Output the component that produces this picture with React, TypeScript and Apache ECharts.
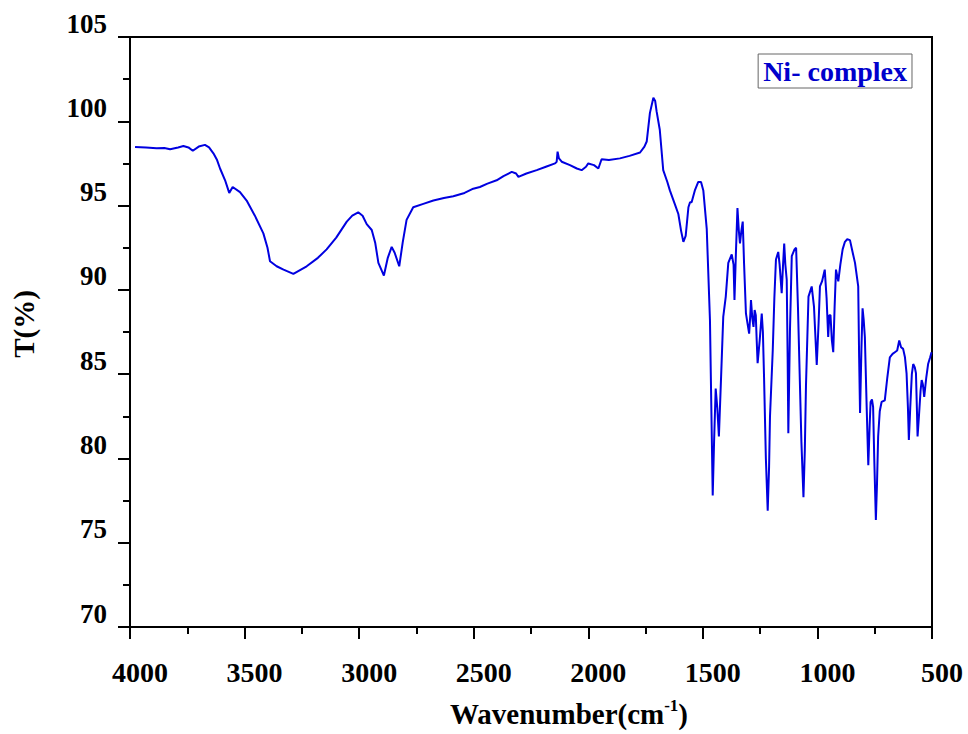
import React, { useEffect, useRef } from "react";
import * as echarts from "echarts";

// Wavenumber (cm^-1), descending
const wavenumbers: number[] = [
  3978, 3930, 3884, 3850, 3825, 3790, 3767, 3745, 3726, 3700, 3673, 3655, 3636, 3620, 3607,
  3585, 3567, 3552, 3520, 3491, 3455, 3418, 3400, 3389, 3360, 3330, 3287, 3229, 3180, 3142,
  3100, 3054, 3030, 3004, 2985, 2967, 2945, 2930, 2916, 2892, 2875, 2858, 2845, 2825, 2810,
  2793, 2764, 2720, 2676, 2630, 2589, 2540, 2502, 2473, 2440, 2400, 2370, 2334, 2315, 2305,
  2270, 2225, 2185, 2145, 2138, 2134, 2128, 2116, 2080, 2050, 2029, 2010, 2000, 1975, 1956,
  1942, 1910, 1862, 1820, 1774, 1755, 1745, 1731, 1716, 1708, 1702, 1688, 1673, 1655, 1644,
  1620, 1607, 1595, 1585, 1575, 1563, 1556, 1549, 1535, 1520, 1508, 1498, 1483, 1469, 1463,
  1457, 1451, 1444, 1437, 1430, 1420, 1411, 1400, 1389, 1374, 1366, 1362, 1355, 1349, 1343,
  1338, 1332, 1326, 1320, 1312, 1305, 1298, 1293, 1290, 1284, 1279, 1274, 1269, 1265, 1261,
  1252, 1243, 1238, 1233, 1225, 1217, 1211, 1207, 1195, 1188, 1181, 1171, 1165, 1156, 1150,
  1145, 1140, 1134, 1130, 1127, 1120, 1112, 1100, 1093, 1085, 1079, 1070, 1061, 1055, 1050,
  1039, 1025, 1015, 1003, 995, 989, 980, 968, 960, 953, 948, 943, 937, 931, 925,
  919, 909, 900, 890, 880, 870, 858, 846, 836, 822, 818, 814, 808, 803, 798,
  793, 785, 778, 772, 768, 762, 757, 752, 745, 740, 735, 728, 720, 706, 695,
  684, 672, 662, 652, 643, 635, 626, 618, 611, 605, 601, 595, 588, 582, 575,
  570, 566, 563, 557, 550, 545, 540, 534, 525, 517, 508, 502,
];

// Transmittance T(%)
const transmittance: number[] = [
  98.47, 98.45, 98.4, 98.42, 98.34, 98.45, 98.53, 98.45, 98.25, 98.5, 98.6, 98.45, 98.1, 97.7, 97.2,
  96.5, 95.75, 96.1, 95.8, 95.3, 94.4, 93.35, 92.5, 91.7, 91.4, 91.2, 90.95, 91.4, 91.9, 92.4,
  93.1, 94.05, 94.4, 94.6, 94.4, 93.9, 93.55, 92.8, 91.6, 90.85, 91.9, 92.55, 92.2, 91.4, 92.8,
  94.15, 94.9, 95.1, 95.3, 95.45, 95.55, 95.75, 96.0, 96.1, 96.3, 96.5, 96.75, 97.0, 96.9, 96.7,
  96.9, 97.1, 97.3, 97.5, 97.6, 98.2, 97.8, 97.6, 97.4, 97.2, 97.1, 97.3, 97.5, 97.4, 97.2,
  97.75, 97.7, 97.8, 97.95, 98.15, 98.5, 98.8, 100.5, 101.4, 101.2, 100.6, 99.5, 97.1, 96.4, 95.9,
  95.0, 94.5, 93.5, 92.85, 93.2, 94.9, 95.2, 95.2, 95.9, 96.4, 96.4, 95.9, 93.6, 88.2, 83.0,
  77.8, 81.0, 84.15, 83.0, 81.3, 85.0, 88.4, 89.6, 91.6, 92.1, 91.5, 89.4, 92.5, 94.85, 93.5,
  92.75, 93.5, 94.05, 91.5, 88.6, 88.0, 87.4, 88.5, 89.4, 88.3, 87.8, 88.8, 88.5, 87.0, 85.65,
  87.0, 88.6, 87.5, 84.85, 80.0, 76.9, 79.5, 82.5, 86.4, 89.5, 91.8, 92.25, 91.5, 89.8, 91.5,
  92.75, 91.5, 90.6, 86.0, 81.5, 87.5, 92.0, 92.4, 92.5, 89.0, 85.8, 81.0, 77.7, 80.5, 84.3,
  89.6, 90.2, 89.0, 85.55, 88.0, 90.2, 90.5, 91.2, 89.5, 87.2, 88.5, 88.5, 87.0, 86.3, 89.0,
  91.2, 90.5, 91.5, 92.4, 92.85, 93.0, 92.95, 92.2, 91.6, 90.2, 86.0, 82.7, 86.5, 88.9, 88.2,
  87.2, 83.0, 79.6, 82.0, 83.35, 83.5, 83.05, 80.0, 76.35, 78.5, 81.3, 82.8, 83.35, 83.45, 84.8,
  86.0, 86.2, 86.3, 86.4, 87.0, 86.6, 86.5, 86.0, 85.05, 83.0, 81.1, 83.0, 85.0, 85.6, 85.4,
  85.05, 83.0, 81.3, 82.5, 84.0, 84.65, 84.4, 83.65, 84.8, 85.6, 86.0, 86.3,
];

const seriesName = "Ni- complex";
const xTicks = { min: 500, max: 4000, interval: 500 };
const yTicks = { min: 70, max: 105, interval: 5 };

const FONT = "'Liberation Serif', 'Times New Roman', Times, serif";

export default function App() {
  const ref = useRef<HTMLDivElement>(null);

  useEffect(() => {
    if (!ref.current) return;
    const chart = echarts.init(ref.current, null, { renderer: "svg" });
    const data = wavenumbers.map((w, i) => [w, transmittance[i]]);

    chart.setOption({
      animation: false,
      backgroundColor: "#ffffff",
      grid: {
        left: 130,
        right: 36,
        top: 37,
        bottom: 107,
        show: true,
        borderColor: "#000",
        borderWidth: 2,
        backgroundColor: "transparent",
        containLabel: false,
        outerBoundsMode: "none",
      },
      legend: {
        data: [{ name: seriesName, icon: "none" }],
        right: 56,
        top: 54,
        itemWidth: 0,
        itemHeight: 0,
        padding: [3, 5, 3, 0],
        borderColor: "#666",
        borderWidth: 1,
        backgroundColor: "#fff",
        selectedMode: false,
        textStyle: {
          color: "#0000CC",
          fontWeight: "bold",
          fontSize: 28,
          fontFamily: FONT,
        },
      },
      xAxis: {
        type: "value",
        inverse: true,
        min: xTicks.min,
        max: xTicks.max,
        interval: xTicks.interval,
        name: "{a|Wavenumber(cm}{s|-1}{a|)}",
        nameLocation: "middle",
        nameGap: 70,
        nameTextStyle: {
          padding: [0, 0, 0, 76],
          rich: {
            a: { fontSize: 29, fontWeight: "bold", fontFamily: FONT, color: "#000", lineHeight: 34 },
            s: { fontSize: 17, fontWeight: "bold", fontFamily: FONT, color: "#000", lineHeight: 17, verticalAlign: "top" },
          },
        },
        axisLine: { show: true, onZero: false, lineStyle: { color: "#000", width: 2 } },
        axisTick: { show: true, inside: false, length: 12, lineStyle: { color: "#000", width: 2 } },
        minorTick: { show: true, splitNumber: 2, length: 7, lineStyle: { color: "#000", width: 2 } },
        splitLine: { show: false },
        minorSplitLine: { show: false },
        axisLabel: {
          color: "#000",
          fontSize: 28,
          fontWeight: "bold",
          fontFamily: FONT,
          margin: 31,
          padding: [0, 0, 0, 20],
          formatter: (v: number) => String(v),
        },
      },
      yAxis: {
        type: "value",
        min: yTicks.min,
        max: yTicks.max,
        interval: yTicks.interval,
        name: "T(%)",
        nameLocation: "middle",
        nameGap: 92,
        nameRotate: 90,
        nameTextStyle: {
          color: "#000",
          fontSize: 29,
          fontWeight: "bold",
          fontFamily: FONT,
          padding: [0, 0, 0, 16],
        },
        axisLine: { show: true, onZero: false, lineStyle: { color: "#000", width: 2 } },
        axisTick: { show: true, inside: false, length: 12, lineStyle: { color: "#000", width: 2 } },
        minorTick: { show: true, splitNumber: 2, length: 7, lineStyle: { color: "#000", width: 2 } },
        splitLine: { show: false },
        minorSplitLine: { show: false },
        axisLabel: {
          color: "#000",
          fontSize: 27,
          fontWeight: "bold",
          fontFamily: FONT,
          margin: 23,
          verticalAlign: "bottom",
          formatter: (v: number) => String(v),
        },
      },
      series: [
        {
          name: seriesName,
          type: "line",
          data,
          showSymbol: false,
          symbol: "none",
          smooth: false,
          lineStyle: { color: "#0000E0", width: 2 },
          itemStyle: { color: "#0000E0" },
        },
      ],
    });

    return () => chart.dispose();
  }, []);

  return (
    <div
      ref={ref}
      style={{ position: "fixed", left: 0, top: 0, width: 968, height: 734, background: "#fff" }}
    />
  );
}
